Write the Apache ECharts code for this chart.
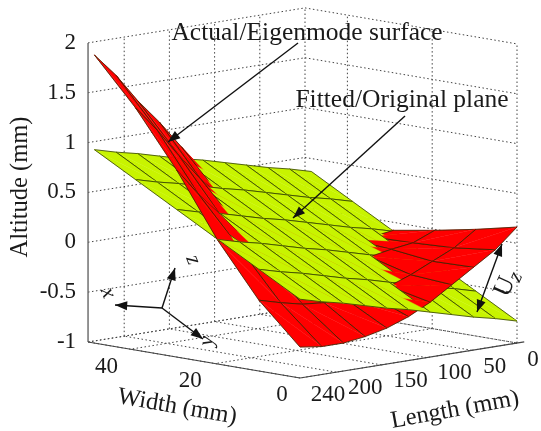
<!DOCTYPE html>
<html>
<head>
<meta charset="utf-8">
<style>html,body{margin:0;padding:0;background:#fff}#chart{width:541px;height:431px}</style>
<script src="https://cdn.jsdelivr.net/npm/echarts@6/dist/echarts.min.js"></script>
</head>
<body>
<div id="chart"></div>
<script>
// tick labels
const altitudeTicks = [-1, -0.5, 0, 0.5, 1, 1.5, 2];
const lengthTicks = [0, 50, 100, 150, 200, 240];
const widthTicks = [0, 20, 40];

// surface sample positions
const lengthGrid = [0, 24, 48, 72, 96, 120, 144, 168, 192, 216, 240];
const widthGrid = [0, 9.7, 19.4, 29.1, 38.8, 48.5];

// altitude, one row per width
const actualSurface = [
    [0.163, -0.03, -0.17, -0.31, -0.45, -0.56, -0.64, -0.69, -0.72, -0.72, -0.69],
    [0.07, -0.08, -0.18, -0.28, -0.36, -0.40, -0.42, -0.42, -0.40, -0.35, -0.29],
    [-0.01, -0.10, -0.13, -0.17, -0.21, -0.18, -0.12, -0.05, 0.03, 0.13, 0.24],
    [-0.08, -0.11, -0.10, -0.09, -0.07, -0.02, 0.05, 0.17, 0.36, 0.60, 0.876],
    [-0.15, -0.13, -0.10, -0.04, 0.06, 0.20, 0.38, 0.61, 0.88, 1.17, 1.43],
    [-0.22, -0.15, -0.05, 0.08, 0.28, 0.55, 0.83, 1.11, 1.36, 1.65, 1.89]
];
const fittedPlane = [
    [-0.78, -0.72, -0.67, -0.61, -0.55, -0.49, -0.44, -0.38, -0.32, -0.27, -0.21],
    [-0.55, -0.49, -0.44, -0.38, -0.32, -0.26, -0.21, -0.15, -0.09, -0.04, 0.02],
    [-0.32, -0.26, -0.21, -0.15, -0.09, -0.03, 0.02, 0.08, 0.14, 0.19, 0.25],
    [-0.09, -0.03, 0.02, 0.08, 0.14, 0.20, 0.25, 0.31, 0.37, 0.42, 0.48],
    [0.14, 0.20, 0.25, 0.31, 0.37, 0.43, 0.48, 0.54, 0.60, 0.65, 0.71],
    [0.37, 0.43, 0.48, 0.54, 0.60, 0.66, 0.71, 0.77, 0.83, 0.88, 0.94]
];

const lengthMax = 240, widthMax = 50, altMin = -1, altMax = 2;
const serif = '"Liberation Serif", "Times New Roman", serif';
const tickFont = '23px ' + serif;
const titleFont = '24.5px ' + serif;
const noteFont = '25.5px ' + serif;

// 3d -> view plane, the view is fixed (orthographic)
function project(l, w, z) {
    return [
        517 - 0.904 * l - 4.24 * w,
        343 + 0.1458 * l - 0.72 * w - 99.7 * (z - altMin)
    ];
}
// larger means nearer to the viewer
function depth(l, w, z) {
    return 212 * l / lengthMax - 212 * w / widthMax + 50 * (z - altMin) / (altMax - altMin);
}

// both surfaces split in triangles, far ones first (painter order)
// the last two corners of a triangle close the diagonal, that edge gets no line
const cells = [];
[actualSurface, fittedPlane].forEach((table, s) => {
    for (let j = 0; j < widthGrid.length - 1; j++) {
        for (let i = 0; i < lengthGrid.length - 1; i++) {
            [
                [[i + 1, j + 1], [i, j + 1], [i, j]],
                [[i + 1, j + 1], [i + 1, j], [i, j]]
            ].forEach(tri => {
                let d = 0;
                tri.forEach(c => { d += depth(lengthGrid[c[0]], widthGrid[c[1]], table[c[1]][c[0]]) / 3; });
                cells.push({ s, tri, d });
            });
        }
    }
});
cells.sort((a, b) => a.d - b.d);

const surfaceColors = ['#ff0000', '#c8f400'];

function renderCell(params, api) {
    const c = cells[params.dataIndex];
    const table = c.s === 0 ? actualSurface : fittedPlane;
    const points = c.tri.map(p => api.coord(project(lengthGrid[p[0]], widthGrid[p[1]], table[p[1]][p[0]])));
    return {
        type: 'group',
        children: [
            {
                type: 'polygon',
                shape: { points },
                style: { fill: surfaceColors[c.s], stroke: surfaceColors[c.s], lineWidth: 0.4 }
            },
            {
                type: 'polyline',
                shape: { points },
                style: { fill: null, stroke: 'rgba(30,40,0,0.8)', lineWidth: 0.9 }
            }
        ]
    };
}

// dotted box walls and floor
const boxLines = [];
altitudeTicks.forEach(z => {
    boxLines.push([[lengthMax, widthMax, z], [0, widthMax, z]]);
    boxLines.push([[0, widthMax, z], [0, 0, z]]);
});
lengthTicks.forEach(l => {
    if (l !== lengthMax) boxLines.push([[l, widthMax, altMin], [l, widthMax, altMax]]);
    boxLines.push([[l, 0, altMin], [l, widthMax, altMin]]);
});
widthTicks.forEach(w => {
    boxLines.push([[0, w, altMin], [0, w, altMax]]);
    boxLines.push([[0, w, altMin], [lengthMax, w, altMin]]);
});
boxLines.push([[lengthMax, widthMax, altMin], [0, widthMax, altMin]]);

function renderBoxLine(params, api) {
    const seg = boxLines[params.dataIndex];
    const a = api.coord(project(seg[0][0], seg[0][1], seg[0][2]));
    const b = api.coord(project(seg[1][0], seg[1][1], seg[1][2]));
    return {
        type: 'line',
        shape: { x1: a[0], y1: a[1], x2: b[0], y2: b[1] },
        style: { stroke: '#444', lineWidth: 1, lineDash: [1.5, 2.5] }
    };
}

// solid axes
const axisLines = [
    [[lengthMax, widthMax, altMin], [lengthMax, widthMax, altMax], '#666', 1.4],
    [[lengthMax, widthMax, altMin], [lengthMax, 0, altMin], '#444', 1.2],
    [[lengthMax, 0, altMin], [-8, 0, altMin], '#444', 1.2]
];
function renderAxisLine(params, api) {
    const seg = axisLines[params.dataIndex];
    const a = api.coord(project(seg[0][0], seg[0][1], seg[0][2]));
    const b = api.coord(project(seg[1][0], seg[1][1], seg[1][2]));
    return {
        type: 'line',
        shape: { x1: a[0], y1: a[1], x2: b[0], y2: b[1] },
        style: { stroke: seg[2], lineWidth: seg[3] }
    };
}

// tick labels, offset from the tick they belong to
const lengthNudge = [[16, 17], [23, 17], [28, 15], [29, 16], [29, 16], [28, 17]];
const widthNudge = [[-18, 17], [-25, 17], [-24, 18]];
const tickLabels = [];
altitudeTicks.forEach(z => tickLabels.push({ p: [lengthMax, widthMax, z], t: String(z), dx: -12, dy: 0, align: 'right' }));
lengthTicks.forEach((l, i) => tickLabels.push({ p: [l, 0, altMin], t: String(l), dx: lengthNudge[i][0], dy: lengthNudge[i][1], align: 'center' }));
widthTicks.forEach((w, i) => tickLabels.push({ p: [lengthMax, w, altMin], t: String(w), dx: widthNudge[i][0], dy: widthNudge[i][1], align: 'center' }));

function renderTickLabel(params, api) {
    const lab = tickLabels[params.dataIndex];
    const a = api.coord(project(lab.p[0], lab.p[1], lab.p[2]));
    return {
        type: 'text',
        style: {
            text: lab.t, x: a[0] + lab.dx, y: a[1] + lab.dy,
            fill: '#1a1a1a', font: tickFont, align: lab.align, verticalAlign: 'middle'
        }
    };
}

function label(text, x, y, rotation, font) {
    return {
        type: 'text', x, y, rotation, silent: true, z: 20,
        style: { text, fill: '#1a1a1a', font: font || tickFont, align: 'center', verticalAlign: 'middle' }
    };
}
// line with a filled head at (x2,y2), optional second head at the start
function arrow(x1, y1, x2, y2, both) {
    const head = (hx, hy, fx, fy) => {
        const a = Math.atan2(hy - fy, hx - fx), s = 13, b = 0.36;
        return {
            type: 'polygon', silent: true, z: 20,
            shape: { points: [[hx, hy],
                [hx - s * Math.cos(a - b), hy - s * Math.sin(a - b)],
                [hx - s * Math.cos(a + b), hy - s * Math.sin(a + b)]] },
            style: { fill: '#111' }
        };
    };
    const out = [
        { type: 'line', silent: true, z: 20, shape: { x1, y1, x2, y2 }, style: { stroke: '#111', lineWidth: 1.4 } },
        head(x2, y2, x1, y1)
    ];
    if (both) out.push(head(x1, y1, x2, y2));
    return out;
}

const italic = 'italic 22px ' + serif;
const graphics = [
    label('Altitude (mm)', 21, 187, Math.PI / 2, titleFont),
    label('Width (mm)', 177, 407, -0.17, titleFont),
    label('Length (mm)', 455, 410, 0.18, titleFont),
    label('Actual/Eigenmode surface', 307, 33, 0, noteFont),
    label('Fitted/Original plane', 402, 100, 0, noteFont),
    label('x', 108, 293, -1.2, italic),
    label('z', 193, 260, -1.2, italic),
    label('y', 207, 341, 1.5, italic),
    label('U', 505, 287, 1.15, '26px ' + serif),
    label('z', 516, 277, 1.15, 'italic 21px ' + serif)
].concat(
    arrow(298, 43, 168, 142),
    arrow(405, 116, 293, 218),
    arrow(162, 308, 115, 305),
    arrow(162, 308, 175, 268),
    arrow(162, 308, 203, 339),
    arrow(477, 312, 502, 244, true)
);

const indices = arr => arr.map((_, i) => [i]);

const chart = echarts.init(document.getElementById('chart'));
chart.setOption({
    animation: false,
    backgroundColor: '#fff',
    grid: { left: 0, right: 0, top: 0, bottom: 0 },
    xAxis: { type: 'value', min: 0, max: 541, show: false },
    yAxis: { type: 'value', min: 0, max: 431, inverse: true, show: false },
    graphic: graphics,
    series: [
        { type: 'custom', coordinateSystem: 'cartesian2d', clip: false, silent: true, z: 1, renderItem: renderBoxLine, data: indices(boxLines) },
        { type: 'custom', coordinateSystem: 'cartesian2d', clip: false, silent: true, z: 2, renderItem: renderAxisLine, data: indices(axisLines) },
        { type: 'custom', coordinateSystem: 'cartesian2d', clip: false, silent: true, z: 3, renderItem: renderCell, data: indices(cells) },
        { type: 'custom', coordinateSystem: 'cartesian2d', clip: false, silent: true, z: 4, renderItem: renderTickLabel, data: indices(tickLabels) }
    ]
});
</script>
</body>
</html>
